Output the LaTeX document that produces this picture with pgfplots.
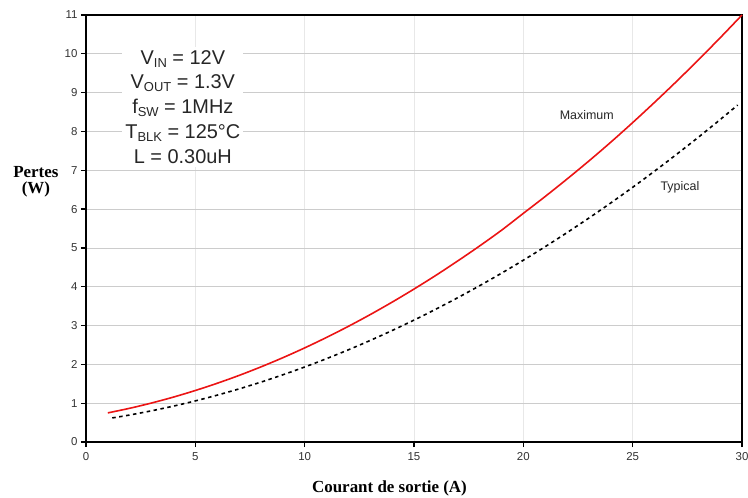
\documentclass[border=0pt]{standalone}
\usepackage{fontspec}
\setmainfont{Liberation Sans}
\newfontfamily\timesfont{Liberation Serif}
\usepackage{pgfplots}
\pgfplotsset{compat=1.18}
\begin{document}
\begin{tikzpicture}
\useasboundingbox (-86bp,-56bp) rectangle (662bp,442bp);
\begin{axis}[
  scale only axis,
  width=656bp, height=427bp,
  xmin=0, xmax=30, ymin=0, ymax=11,
  xtick={0,5,...,30}, ytick={0,1,...,11},
  grid=major,
  x grid style={gray!18, line width=0.6bp},
  y grid style={gray!40, line width=0.8bp},
  axis line style={black, line width=1.6bp},
  tick align=outside,
  major tick length=5bp,
  tick style={black, line width=1.2bp},
  xtick pos=bottom, ytick pos=left,
  ticklabel style={font=\fontsize{11.5}{13}\selectfont, text=black!80},
  xticklabel style={yshift=-2bp},
  /pgf/number format/assume math mode=true,
  clip=false,
]
\addplot[color={rgb,255:red,235;green,20;blue,20}, line width=1.6bp, smooth] coordinates {
(1,0.750) (2,0.869) (3,1.005) (4,1.157) (5,1.327) (6,1.513) (7,1.715) (8,1.935) (9,2.171) (10,2.424)
(11,2.694) (12,2.980) (13,3.283) (14,3.603) (15,3.940) (16,4.293) (17,4.664) (18,5.050) (19,5.454) (20,5.890)
(21,6.325) (22,6.775) (23,7.240) (24,7.724) (25,8.228) (26,8.749) (27,9.286) (28,9.841) (29,10.412) (30,11.0)
};
\addplot[black, line width=1.6bp, dash pattern=on 3.5bp off 3.5bp, smooth] coordinates {
(1.2,0.620) (2,0.696) (3,0.804) (4,0.925) (5,1.059) (6,1.207) (7,1.368) (8,1.543) (9,1.731) (10,1.932)
(11,2.147) (12,2.375) (13,2.617) (14,2.872) (15,3.140) (16,3.422) (17,3.717) (18,4.026) (19,4.348) (20,4.683)
(21,5.032) (22,5.394) (23,5.770) (24,6.159) (25,6.561) (26,6.977) (27,7.407) (28,7.849) (29,8.305) (29.8,8.68)
};
\node[font=\fontsize{12.5}{14}\selectfont, text=black!85] at (axis cs:22.9,8.43) {Maximum};
\node[font=\fontsize{12.5}{14}\selectfont, text=black!85] at (axis cs:27.16,6.57) {Typical};
\node[fill=white, align=center, inner sep=3bp, font=\fontsize{20}{25}\selectfont, text=black!85] at (axis cs:4.43,8.63) {%
V\raisebox{-3bp}{\fontsize{13}{13}\selectfont IN} = 12V\\
V\raisebox{-3bp}{\fontsize{13}{13}\selectfont OUT} = 1.3V\\
f\raisebox{-3bp}{\fontsize{13}{13}\selectfont SW} = 1MHz\\
T\raisebox{-3bp}{\fontsize{13}{13}\selectfont BLK} = 125°C\\
L = 0.30uH};
\node[align=center, font=\timesfont\bfseries\fontsize{17}{16}\selectfont] at (axis cs:-2.29,6.7) {Pertes\\(W)};
\node[font=\timesfont\bfseries\fontsize{17}{20}\selectfont] at ([yshift=-46bp]axis cs:13.88,0) {Courant de sortie (A)};
\end{axis}
\end{tikzpicture}
\end{document}
